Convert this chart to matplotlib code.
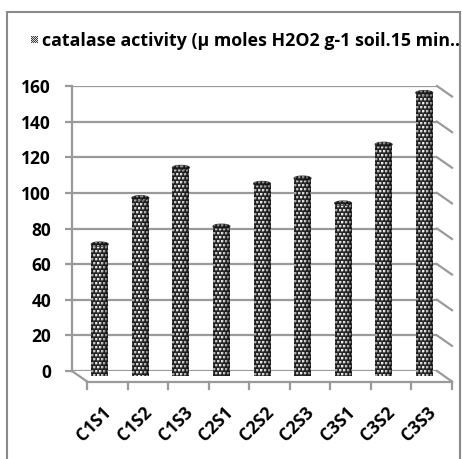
import numpy as np
import matplotlib
matplotlib.use("Agg")
import matplotlib.pyplot as plt
from matplotlib.patches import Rectangle, Ellipse
from matplotlib.transforms import ScaledTranslation

categories = ["C1S1", "C1S2", "C1S3", "C2S1", "C2S2", "C2S3", "C3S1", "C3S2", "C3S3"]
values = [74, 100, 117, 84, 108, 111, 97, 130, 159]
yticks = [0, 20, 40, 60, 80, 100, 120, 140, 160]
title = "catalase activity (µ moles H2O2 g-1 soil.15 min.."

W, H = 462, 459
DPI = 100
FONT = ['Open Sans', 'DejaVu Sans']

fig = plt.figure(figsize=(W / DPI, H / DPI), dpi=DPI)
fig.patch.set_facecolor('white')

def fx(px):
    return px / W

def fy(py):
    return 1 - py / H

# outer border
fig.patches.append(Rectangle((fx(7), fy(470)), fx(460) - fx(7), fy(12) - fy(470),
                             transform=fig.transFigure, fill=False,
                             edgecolor='#8a8a8a', linewidth=1.5))

# back wall axes
x0, x1, ytop, ybot = 72, 437, 86, 371
ax = fig.add_axes([fx(x0), fy(ybot), fx(x1) - fx(x0), fy(ytop) - fy(ybot)])
n = len(categories)
ax.set_xlim(0, n)
ax.set_ylim(0, 160)
ax.set_facecolor('none')
for s in ['top', 'right', 'bottom']:
    ax.spines[s].set_visible(False)
ax.spines['left'].set_color('#9a9a9a')
ax.spines['left'].set_linewidth(1.6)
ax.set_yticks(yticks)
ax.set_yticklabels([str(t) for t in yticks], fontsize=12.5, fontweight='bold', family=FONT)
ax.tick_params(axis='y', length=5, width=1.6, color='#9a9a9a', pad=10)
ax.set_xticks([])
ax.yaxis.grid(True, color='#9a9a9a', linewidth=1.6)
ax.set_axisbelow(True)

px_per_x = (x1 - x0) / n
px_per_y = (ybot - ytop) / 160
ddx = 15 / px_per_x
ddy = 10.5 / px_per_y

# right side wall lines
for t in yticks:
    ax.plot([n, n + ddx], [t, t - ddy], color='#9a9a9a', lw=1.6, clip_on=False, zorder=1)
# floor
ax.plot([0, ddx], [0, -ddy], color='#9a9a9a', lw=1.6, clip_on=False, zorder=1)
ax.plot([ddx, n + ddx], [-ddy, -ddy], color='#9a9a9a', lw=1.6, clip_on=False, zorder=1)
tick_len = 7 / px_per_y
for i in range(n + 1):
    ax.plot([i + ddx, i + ddx], [-ddy, -ddy - tick_len], color='#9a9a9a', lw=1.6,
            clip_on=False, zorder=1)


def texture(rows, cols, dark=0.0):
    r = np.arange(rows)[:, None]
    c = np.arange(cols)[None, :]
    shift = 2 * ((r // 4) % 2)
    dot = ((r % 4) < 2) & (((c + shift) % 4) < 2)
    half = (((r % 4) == 2) & (((c + shift) % 4) < 2)) | \
           (((r % 4) < 2) & (((c + shift) % 4) == 2))
    u = (np.arange(cols) + 0.5) / cols
    light = np.clip(1 - np.abs(u - 0.42) / 0.62, 0, 1) ** 0.7
    bg = 0.07 + 0.10 * light
    fg = 0.30 + 0.65 * light
    img = np.where(dot, fg[None, :], np.where(half, 0.5 * (fg + bg)[None, :] * 0.8,
                                               bg[None, :])) * (1 - dark)
    img = np.broadcast_to(img, (rows, cols))
    return np.dstack([img, img, img])


# bars (cylinders) placed mid-depth
off = ax.transData + ScaledTranslation(7.5 / DPI, -5 / DPI, fig.dpi_scale_trans)
bw = 17 / px_per_x
eh = 4.5 / px_per_y
cols = 17
for i, v in enumerate(values):
    xc = i + 0.5
    bars = ax.bar([xc], [v], width=bw, bottom=0, facecolor='none', edgecolor='none',
                  linewidth=0, zorder=3, transform=off, clip_on=False)
    rect = bars.patches[0]
    rows = int(round((v + eh) * px_per_y))
    tex = texture(rows, cols)
    ext = [xc - bw / 2, xc + bw / 2, -eh / 2, v + eh / 2]
    im = ax.imshow(tex, extent=ext, aspect='auto', transform=off, zorder=3,
                   interpolation='nearest')
    im.set_clip_path(rect)
    eb = Ellipse((xc, 0), bw, eh, transform=off, facecolor='none', edgecolor='none')
    ax.add_patch(eb)
    im2 = ax.imshow(tex, extent=ext, aspect='auto', transform=off, zorder=3,
                    interpolation='nearest')
    im2.set_clip_path(eb)
    et = Ellipse((xc, v), bw, eh, transform=off, facecolor='#2a2a2a',
                 edgecolor='#444444', linewidth=0.8, zorder=5, clip_on=False)
    ax.add_patch(et)
    im3 = ax.imshow(texture(rows, cols, dark=0.35), extent=ext, aspect='auto',
                    transform=off, zorder=5.5, interpolation='nearest')
    im3.set_clip_path(et)
ax.set_xlim(0, n)
ax.set_ylim(0, 160)

# x labels under the floor
lab_off = ax.transData + ScaledTranslation(10 / DPI, -32 / DPI, fig.dpi_scale_trans)
for i, c in enumerate(categories):
    ax.text(i + 0.5, 0, c, transform=lab_off, rotation=45, rotation_mode='anchor',
            ha='right', va='top', fontsize=12.5, fontweight='bold', family=FONT)

# title with legend key
key = np.dstack([np.where(((np.arange(7)[:, None] + np.arange(7)[None, :]) % 2) == 0,
                          0.25, 0.85)] * 3)
fig.figimage(key, xo=31, yo=H - 43, origin='upper', zorder=2)
fig.text(fx(42), fy(41), title, ha='left', va='center', fontsize=12.8,
         fontweight='bold', family=FONT)

fig.savefig('out.png', dpi=DPI)
